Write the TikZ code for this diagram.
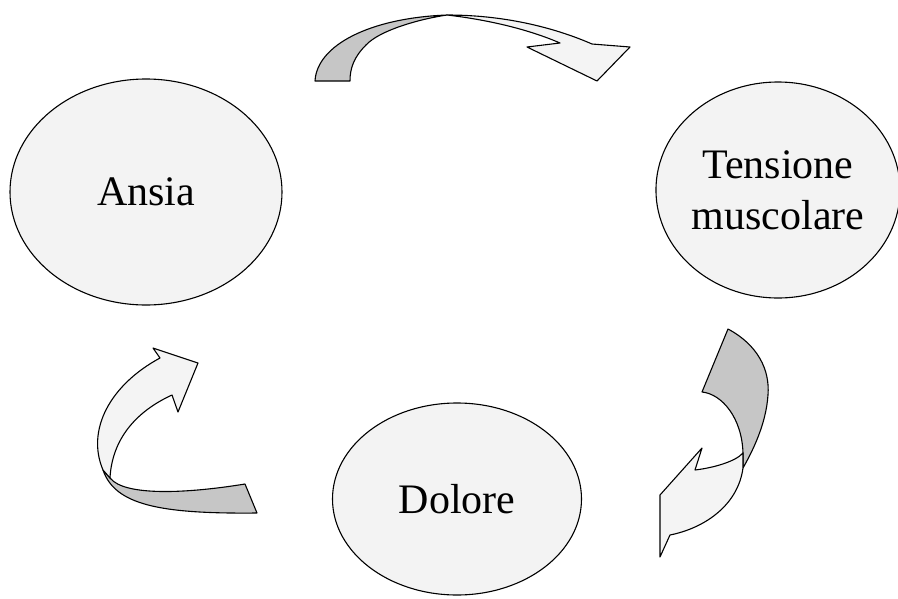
\documentclass[tikz,border=0pt]{standalone}
\usepackage{fontspec}
\setmainfont{Liberation Serif}
\usepackage{tikz}
\usetikzlibrary{shapes.geometric}
\definecolor{bubblefill}{RGB}{243,243,243}
\definecolor{ribbongray}{RGB}{198,198,198}
\definecolor{ribbonlight}{RGB}{244,244,244}
\tikzset{
    bubble/.style={ellipse,draw=black,line width=1.1pt,fill=bubblefill,inner sep=0pt,
        align=center,font=\fontsize{42}{51}\selectfont},
    backside/.style={fill=ribbongray,draw=black,line width=1.1pt,line join=round},
    frontside/.style={fill=ribbonlight,draw=black,line width=1.1pt,line join=round}
}

\begin{document}
\begin{tikzpicture}[x=1pt,y=-1pt]
    \useasboundingbox (0,0) rectangle (898,598);
    %Ansia
    \node[bubble,minimum width=272pt,minimum height=226pt] (ansia) at (146,192) {Ansia};
    %Tensione muscolare
    \node[bubble,minimum width=240pt,minimum height=216pt] (tensione) at (778,190) {Tensione\\muscolare};
    %Dolore
    \node[bubble,minimum width=249pt,minimum height=192pt] (dolore) at (457,499) {Dolore};
    %Arrow ansia -> tensione
    \filldraw[backside] (315,81) .. controls (317,45) and (370,18) .. (447,15)
        .. controls (420,19) and (380,30) .. (366,45) .. controls (354,57) and (350,68) .. (350,81) -- cycle;
    \filldraw[frontside] (447,15) .. controls (510,15) and (560,30) .. (592,44)
        -- (630,47) -- (597,81) -- (527,47) -- (560,43)
        .. controls (530,30) and (490,20) .. (447,15) -- cycle;
    %Arrow tensione -> dolore
    \filldraw[backside] (728,329) .. controls (758,345) and (770,370) .. (768,395)
        .. controls (766,425) and (752,452) .. (743,468) -- (743,453)
        .. controls (742,418) and (722,394) .. (702,392) -- cycle;
    \filldraw[frontside] (743,453) .. controls (735,462) and (712,468) .. (695,470)
        -- (702,448) -- (660,495) -- (660,557) -- (670,535)
        .. controls (705,528) and (738,505) .. (743,468) -- cycle;
    %Arrow dolore -> ansia
    \filldraw[backside] (103,470) .. controls (115,505) and (160,514) .. (257,513)
        -- (245,484) .. controls (190,493) and (125,497) .. (110,478) -- cycle;
    \filldraw[frontside] (160,358) -- (153,348) -- (198,363) -- (178,412) -- (172,395)
        .. controls (135,412) and (112,440) .. (110,478) -- (103,470)
        .. controls (86,430) and (110,385) .. (160,358) -- cycle;
\end{tikzpicture}
\end{document}
